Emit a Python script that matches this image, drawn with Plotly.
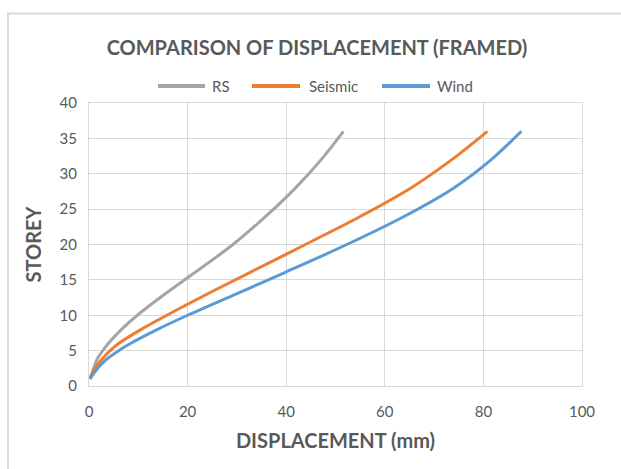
import plotly.graph_objects as go

# Storey levels and lateral displacement (mm) for each load case
storeys = [1, 2, 3, 4, 5, 6, 8, 10, 13, 16, 20, 24, 28, 32, 36]
rs_disp = [0.2, 0.7, 1.2, 1.8, 2.8, 3.9, 6.6, 9.8, 15.4, 21.4, 29.2, 35.9, 41.9, 47.1, 51.6]
seismic_disp = [0.2, 0.8, 1.7, 2.9, 4.3, 6.0, 10.6, 15.8, 24.0, 32.5, 43.9, 55.1, 65.3, 73.6, 80.8]
wind_disp = [0.2, 1.2, 2.4, 4.0, 6.0, 8.4, 13.9, 20.0, 29.8, 39.6, 52.3, 64.0, 74.0, 81.6, 87.7]

series = [
    ("RS", rs_disp, "#a5a5a5"),
    ("Seismic", seismic_disp, "#ed7d31"),
    ("Wind", wind_disp, "#5b9bd5"),
]

FONT = "Lato"
TEXT = "#595959"
GRID = "#d9d9d9"

# plot-area pixel geometry helpers
L, R, T, B = 89, 582, 103, 386
def px_x(p):
    return (p - L) / (R - L)
def px_y(p):
    return (B - p) / (B - T)

fig = go.Figure()
for name, disp, color in series:
    fig.add_trace(go.Scatter(
        x=disp, y=storeys, name=name, mode="lines",
        line=dict(color=color, width=3, shape="spline", smoothing=1.0),
        showlegend=False,
    ))

fig.update_layout(
    width=621, height=469,
    margin=dict(l=L, r=621 - R, t=T, b=469 - B),
    paper_bgcolor="white", plot_bgcolor="white",
    font=dict(family=FONT, color=TEXT, size=15),
    title=dict(
        text="<b>COMPARISON OF DISPLACEMENT (FRAMED)</b>",
        x=px_x(317), xref="paper", xanchor="center",
        y=(469 - 48) / 469, yref="container", yanchor="middle",
        font=dict(size=20, color=TEXT, family=FONT),
    ),
)

fig.update_xaxes(
    range=[0, 100], dtick=20, showgrid=True, gridcolor=GRID, gridwidth=1,
    zeroline=False, showline=True, mirror=True, linecolor=GRID, linewidth=1,
    ticks="", ticklabelstandoff=12,
    tickfont=dict(size=15, color=TEXT, family=FONT),
    title=dict(text="<b>DISPLACEMENT (mm)</b>", standoff=14,
               font=dict(size=20, color=TEXT, family=FONT)),
)
fig.update_yaxes(
    range=[0, 40], dtick=5, showgrid=True, gridcolor=GRID, gridwidth=1,
    zeroline=False, showline=True, mirror=True, linecolor=GRID, linewidth=1,
    ticks="", ticklabelstandoff=8,
    tickfont=dict(size=15, color=TEXT, family=FONT),
    title=dict(text="<b>STOREY</b>", standoff=12,
               font=dict(size=20, color=TEXT, family=FONT)),
)

# Legend row: line sample + label per series
legend_y = px_y(86)
legend_items = [(158, 205, 210), (252, 300, 307), (382, 430, 435)]
for (name, _, color), (x0, x1, tx) in zip(series, legend_items):
    fig.add_shape(
        type="line", xref="paper", yref="paper",
        x0=px_x(x0), x1=px_x(x1), y0=legend_y, y1=legend_y,
        line=dict(color=color, width=4),
    )
    fig.add_annotation(
        text=name, xref="paper", yref="paper", x=px_x(tx), y=legend_y,
        xanchor="left", yanchor="middle", showarrow=False,
        font=dict(size=15, color=TEXT, family=FONT),
    )

# Outer chart frame (left and top edges)
fx = px_x(8)
fy = px_y(13.5)
fig.add_shape(
    type="path", xref="paper", yref="paper",
    path=f"M {fx},-0.6 L {fx},{fy} L 1.5,{fy}",
    line=dict(color=GRID, width=2), layer="below",
)

fig.write_html("out.html")
